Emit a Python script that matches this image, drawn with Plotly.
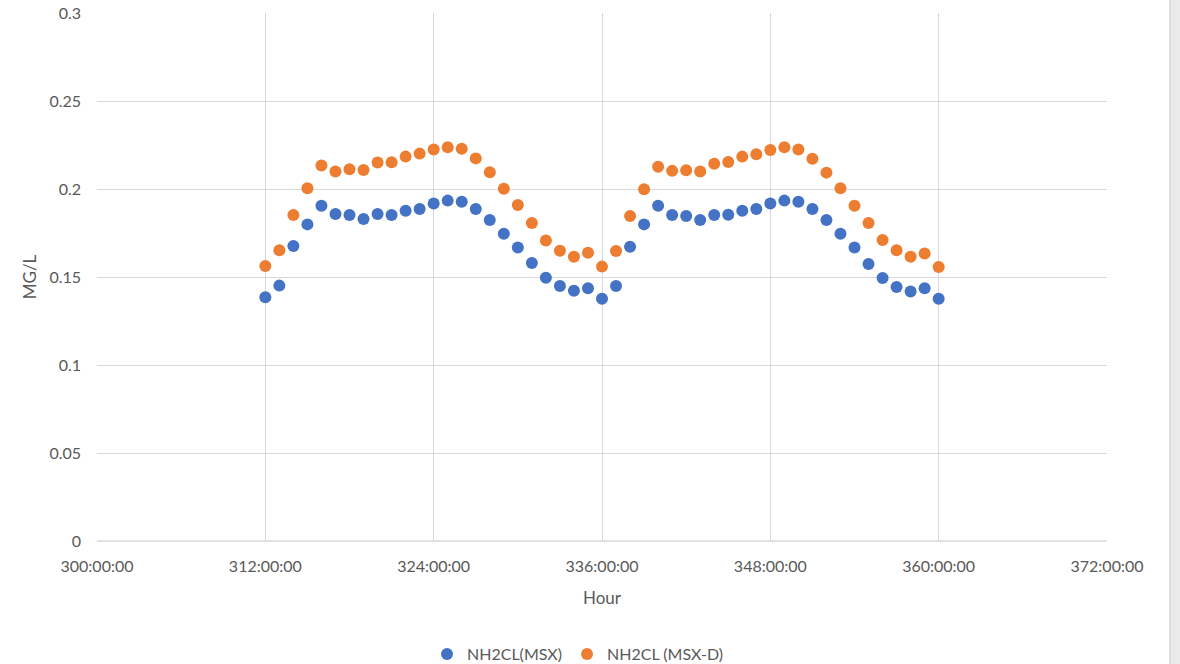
import plotly.graph_objects as go

# Hourly chloramine concentrations, hours 312 through 360
hours = list(range(312, 361))

nh2cl_msx = [
    0.1385, 0.1451, 0.1676, 0.1799, 0.1905, 0.1858, 0.1852, 0.1830, 0.1858, 0.1852,
    0.1877, 0.1886, 0.1918, 0.1934, 0.1928, 0.1886, 0.1824, 0.1746, 0.1667, 0.1580,
    0.1496, 0.1449, 0.1422, 0.1436, 0.1377,
    0.1449, 0.1672, 0.1799, 0.1905, 0.1852, 0.1847, 0.1824, 0.1852, 0.1854, 0.1877,
    0.1886, 0.1918, 0.1934, 0.1928, 0.1886, 0.1824, 0.1746, 0.1667, 0.1574, 0.1494,
    0.1443, 0.1417, 0.1436, 0.1377,
]

nh2cl_msx_d = [
    0.1563, 0.1652, 0.1852, 0.2004, 0.2133, 0.2099, 0.2112, 0.2108, 0.2150, 0.2152,
    0.2184, 0.2201, 0.2224, 0.2237, 0.2229, 0.2174, 0.2095, 0.2002, 0.1909, 0.1807,
    0.1708, 0.1649, 0.1615, 0.1638, 0.1559,
    0.1648, 0.1847, 0.1998, 0.2127, 0.2103, 0.2106, 0.2100, 0.2144, 0.2153, 0.2184,
    0.2197, 0.2222, 0.2237, 0.2225, 0.2172, 0.2093, 0.2004, 0.1905, 0.1807, 0.1710,
    0.1652, 0.1615, 0.1634, 0.1557,
]

x_ticks = [300, 312, 324, 336, 348, 360, 372]
x_tick_labels = [f"{h}:00:00" for h in x_ticks]
y_ticks = [0, 0.05, 0.1, 0.15, 0.2, 0.25, 0.3]

TEXT = "#595959"
GRID = "#d9d9d9"
FONT = "Lato, 'Open Sans', sans-serif"

W, H = 1180, 664
L, R, T, B = 97, 73, 13, 123
PW, PH = W - L - R, H - T - B

fig = go.Figure()
fig.add_trace(go.Scatter(
    x=hours, y=nh2cl_msx, mode="markers", name="NH2CL(MSX)",
    marker=dict(color="#4472C4", size=12),
))
fig.add_trace(go.Scatter(
    x=hours, y=nh2cl_msx_d, mode="markers", name="NH2CL (MSX-D)",
    marker=dict(color="#ED7D31", size=12),
))

fig.update_layout(
    width=W, height=H,
    margin=dict(l=L, r=R, t=T, b=B, autoexpand=False),
    paper_bgcolor="white", plot_bgcolor="white",
    font=dict(family=FONT, size=16, color=TEXT),
    showlegend=True,
    legend=dict(
        orientation="h", x=(578 - L) / PW, xanchor="center",
        y=(541 - 654) / PH, yanchor="middle",
        font=dict(size=16, color=TEXT), itemwidth=30,
        tracegroupgap=0,
    ),
    xaxis=dict(
        range=[300, 372], tickvals=x_ticks, ticktext=x_tick_labels,
        showgrid=True, gridcolor=GRID, gridwidth=1.3,
        zeroline=False, showline=False, ticks="", ticklabelstandoff=14,
        automargin=False,
        title=dict(text="Hour", font=dict(size=17, color=TEXT), standoff=18),
    ),
    yaxis=dict(
        range=[0, 0.3], tickvals=y_ticks,
        showgrid=True, gridcolor=GRID, gridwidth=1.3,
        zeroline=False, showline=False, ticks="", ticklabelstandoff=15,
        automargin=False,
        title=dict(text="MG/L", font=dict(size=17, color=TEXT), standoff=8),
    ),
    shapes=[
        # light scroll strip along the right edge of the page
        dict(type="rect", xref="paper", yref="paper",
             x0=(1170 - L) / PW, x1=(W - L) / PW, y0=-B / PH, y1=(H - B) / PH,
             fillcolor="#eaeaea", line=dict(width=0), layer="above"),
        dict(type="line", xref="paper", yref="paper",
             x0=(1170 - L) / PW, x1=(1170 - L) / PW, y0=-B / PH, y1=(H - B) / PH,
             line=dict(color="#d6d6d6", width=1.5), layer="above"),
        # bottom border of the plot area
        dict(type="line", xref="paper", yref="paper", x0=0, x1=1, y0=0, y1=0,
             line=dict(color=GRID, width=1.5), layer="below"),
    ],
)

fig.write_html("out.html")
